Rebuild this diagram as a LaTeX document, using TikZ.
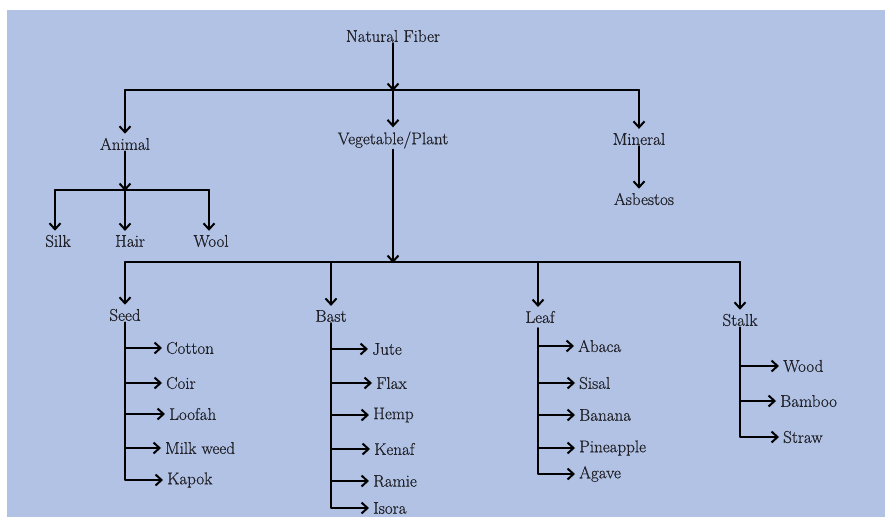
\documentclass[tikz,border=0pt]{standalone}
\usepackage{fontspec}
\usepackage{xcolor}
\usetikzlibrary{arrows.meta}
\newfontfamily\lblfont{Latin Modern Roman}[FakeBold=0.5]
\definecolor{bgblue}{RGB}{177,194,229}
\definecolor{txtgray}{RGB}{32,32,38}

\begin{document}
\begin{tikzpicture}[x=1pt,y=-1pt,
  lbl/.style={font=\lblfont\fontsize{17}{19}\selectfont, text=txtgray, inner sep=1pt},
  leafitem/.style={lbl, anchor=west},
  bus/.style={line width=2pt, line cap=round, line join=round},
  conn/.style={bus, -{Straight Barb[length=6pt,width=11pt,line width=2pt]}, shorten >=3pt}]
  % background panel
  \useasboundingbox (0,0) rectangle (885,517);
  \fill[bgblue] (7,10) rectangle (885,517);

  % Level 0 and 1
  \node[lbl] (nat) at (393,36) {Natural Fiber};
  \node[lbl] (ani) at (125,144) {Animal};
  \node[lbl] (veg) at (393,140) {Vegetable/Plant};
  \node[lbl] (min) at (639,139) {Mineral};
  \node[lbl] (asb) at (644,199) {Asbestos};
  \coordinate (j1) at (393,92);
  \coordinate (b1l) at (125,90);
  \coordinate (b1r) at (639,90);
  \draw[bus] (b1l) -- (b1r);
  \draw[conn, shorten >=1pt] (nat) -- (j1);
  \draw[conn] (b1l) -- (ani);
  \draw[conn] (veg |- b1l) -- (veg);
  \draw[conn] (b1r) -- (min);
  \draw[conn] (min.south) -- (min.south |- asb.north);

  % Animal fibers
  \node[lbl] (silk) at (58,241) {Silk};
  \node[lbl] (hair) at (130,241) {Hair};
  \node[lbl] (wool) at (211,241) {Wool};
  \coordinate (j2) at (125,192);
  \coordinate (b2l) at (55,190);
  \coordinate (b2r) at (209,190);
  \draw[bus] (b2l) -- (b2r);
  \draw[conn, shorten >=1pt] (ani) -- (j2);
  \draw[conn] (b2l) -- (b2l |- silk.north);
  \draw[conn] (ani |- b2l) -- (ani |- hair.north);
  \draw[conn] (b2r) -- (b2r |- wool.north);

  % Plant fibers
  \node[lbl] (seed) at (125,315) {Seed};
  \node[lbl] (bast) at (331,316) {Bast};
  \node[lbl] (leaf) at (540,317) {Leaf};
  \node[lbl] (stalk) at (740,320) {Stalk};
  \coordinate (j3) at (393,264);
  \coordinate (b3l) at (125,262);
  \coordinate (b3r) at (740,262);
  \draw[bus] (b3l) -- (b3r);
  \draw[conn, shorten >=1pt] (veg) -- (j3);
  \draw[conn] (b3l) -- (seed);
  \draw[conn] (bast |- b3l) -- (bast);
  \draw[conn] (538,262) -- (538,310);
  \draw[conn] (b3r) -- (stalk);

  % Seed
  \node[leafitem] (cotton) at (165,348) {Cotton};
  \node[leafitem] (coir) at (165,383) {Coir};
  \node[leafitem] (loofah) at (168,414) {Loofah};
  \node[leafitem] (milk) at (164,448) {Milk weed};
  \node[leafitem] (kapok) at (166,480) {Kapok};
  \draw[conn] (seed.south) |- (kapok);
  \foreach \n in {cotton,coir,loofah,milk}
    \draw[conn] (seed.south |- \n.west) -- (\n);

  % Bast
  \node[leafitem] (jute) at (371,349) {Jute};
  \node[leafitem] (flax) at (375,383) {Flax};
  \node[leafitem] (hemp) at (372,415) {Hemp};
  \node[leafitem] (kenaf) at (373,449) {Kenaf};
  \node[leafitem] (ramie) at (372,481) {Ramie};
  \node[leafitem] (isora) at (372,508) {Isora};
  \draw[conn] (bast.south) |- (isora);
  \foreach \n in {jute,flax,hemp,kenaf,ramie}
    \draw[conn] (bast.south |- \n.west) -- (\n);

  % Leaf
  \node[leafitem] (abaca) at (577,346) {Abaca};
  \node[leafitem] (sisal) at (578,383) {Sisal};
  \node[leafitem] (banana) at (578,415) {Banana};
  \node[leafitem] (pine) at (578,448) {Pineapple};
  \node[leafitem] (agave) at (578,474) {Agave};
  \coordinate (lf) at (538,328);
  \draw[conn] (lf) |- (agave);
  \foreach \n in {abaca,sisal,banana,pine}
    \draw[conn] (lf |- \n.west) -- (\n);

  % Stalk
  \node[leafitem] (wood) at (782,366) {Wood};
  \node[leafitem] (bamboo) at (779,401) {Bamboo};
  \node[leafitem] (straw) at (782,437) {Straw};
  \draw[conn] (stalk.south) |- (straw);
  \foreach \n in {wood,bamboo}
    \draw[conn] (stalk.south |- \n.west) -- (\n);
\end{tikzpicture}
\end{document}
